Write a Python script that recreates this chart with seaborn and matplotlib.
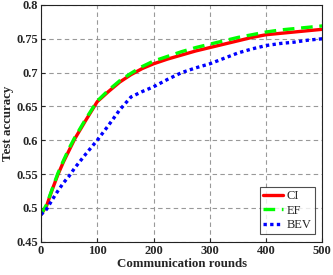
import matplotlib
matplotlib.use('Agg')
import matplotlib.pyplot as plt
import pandas as pd
import seaborn as sns

rounds = [0, 10, 20, 30, 40, 50, 60, 80, 100, 120, 140, 160, 180, 200,
          225, 250, 275, 300, 325, 350, 375, 400, 425, 450, 475, 500]
ci = [0.49, 0.503, 0.527, 0.549, 0.568, 0.585, 0.602, 0.63, 0.657, 0.672, 0.686, 0.697, 0.706, 0.713,
      0.720, 0.726, 0.732, 0.737, 0.742, 0.747, 0.752, 0.756, 0.758, 0.760, 0.762, 0.764]
ef = [0.49, 0.505, 0.528, 0.551, 0.570, 0.588, 0.604, 0.632, 0.658, 0.674, 0.688, 0.699, 0.709, 0.717,
      0.724, 0.731, 0.737, 0.742, 0.747, 0.752, 0.756, 0.760, 0.763, 0.765, 0.767, 0.769]
bev = [0.49, 0.498, 0.512, 0.525, 0.537, 0.547, 0.559, 0.58, 0.60, 0.622, 0.645, 0.664, 0.672, 0.679,
       0.69, 0.70, 0.707, 0.713, 0.721, 0.729, 0.735, 0.740, 0.743, 0.745, 0.748, 0.750]

df = pd.DataFrame({'round': rounds, 'CI': ci, 'EF': ef, 'BEV': bev})

sns.set_style('ticks')
plt.rcParams['font.family'] = ['Liberation Serif', 'DejaVu Serif']

fig = plt.figure(figsize=(3.33, 2.75), dpi=100)
ax = fig.add_axes([0.123, 0.121, 0.845, 0.861])

sns.lineplot(data=df, x='round', y='CI', ax=ax, color='red', lw=2.4, label='CI')
sns.lineplot(data=df, x='round', y='EF', ax=ax, color='#00ff00', lw=2.4, label='EF')
ax.lines[-1].set_dashes([3.5, 2])
sns.lineplot(data=df, x='round', y='BEV', ax=ax, color='blue', lw=2.4, label='BEV')
ax.lines[-1].set_dashes([1, 1])

ax.set_xlim(0, 500)
ax.set_ylim(0.45, 0.8)
ax.set_xticks([0, 100, 200, 300, 400, 500])
ax.set_yticks([0.45, 0.5, 0.55, 0.6, 0.65, 0.7, 0.75, 0.8])
ax.set_yticklabels(['0.45', '0.5', '0.55', '0.6', '0.65', '0.7', '0.75', '0.8'])
ax.grid(True, color='#999999', lw=0.8, dashes=(4, 3))
ax.tick_params(direction='in', labelsize=9, length=3, pad=2)
for lab in ax.get_xticklabels() + ax.get_yticklabels():
    lab.set_fontweight('bold')
for sp in ax.spines.values():
    sp.set_color('#222222')
    sp.set_linewidth(0.8)

ax.set_xlabel('Communication rounds', fontsize=9.3, fontweight='bold', labelpad=1)
ax.set_ylabel('Test accuracy', fontsize=9.3, fontweight='bold', labelpad=2)

leg = ax.legend(loc='lower right', fontsize=9, frameon=True, fancybox=False,
                handlelength=1.6, handletextpad=0.3, borderpad=0.25, labelspacing=0.2,
                borderaxespad=0.6)
leg.get_frame().set_edgecolor('#222222')
leg.get_frame().set_linewidth(0.8)

fig.savefig('out.png', dpi=100)
